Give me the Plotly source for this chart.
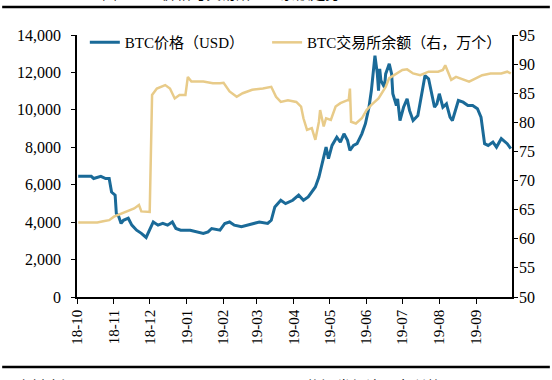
import plotly.graph_objects as go

# BTC price (USD)
price_dates = ["2018-10-02","2018-10-13","2018-10-15","2018-10-21","2018-10-25","2018-10-28","2018-10-30",
               "2018-11-02","2018-11-03","2018-11-05","2018-11-07","2018-11-09","2018-11-13","2018-11-16",
               "2018-11-20","2018-11-24","2018-11-28","2018-12-01","2018-12-04","2018-12-08","2018-12-12",
               "2018-12-16","2018-12-20","2018-12-23","2018-12-27","2019-01-04","2019-01-09","2019-01-15",
               "2019-01-19","2019-01-22","2019-01-29","2019-02-02","2019-02-06","2019-02-10","2019-02-16",
               "2019-02-23","2019-03-03","2019-03-10","2019-03-13","2019-03-16","2019-03-21","2019-03-25",
               "2019-03-31","2019-04-05","2019-04-09","2019-04-13","2019-04-19","2019-04-22","2019-04-25",
               "2019-04-28","2019-04-30","2019-05-03","2019-05-07","2019-05-10","2019-05-13","2019-05-16",
               "2019-05-18","2019-05-21","2019-05-24","2019-05-28","2019-05-31","2019-06-03","2019-06-05",
               "2019-06-08","2019-06-10","2019-06-11","2019-06-12","2019-06-13","2019-06-16","2019-06-17",
               "2019-06-19","2019-06-20","2019-06-22","2019-06-23","2019-06-26","2019-06-27","2019-06-29",
               "2019-07-02","2019-07-05","2019-07-07","2019-07-10","2019-07-14","2019-07-18","2019-07-20",
               "2019-07-23","2019-07-25","2019-07-28","2019-07-30","2019-08-01","2019-08-04","2019-08-07",
               "2019-08-10","2019-08-12","2019-08-17","2019-08-21","2019-08-25","2019-08-29","2019-09-02",
               "2019-09-05","2019-09-08","2019-09-11","2019-09-15","2019-09-18","2019-09-22","2019-09-25",
               "2019-09-27","2019-09-30"]
price_values = [6450,6450,6330,6450,6330,6330,5610,
                5440,4460,4300,3930,4100,4210,3840,
                3570,3400,3180,3570,4010,3840,3930,
                3840,4010,3660,3570,3570,3480,3400,
                3480,3660,3570,3930,4010,3840,3750,
                3890,4010,3930,4100,4810,5170,4990,
                5170,5440,5170,5350,5880,6410,7300,
                8010,7390,8100,8540,8280,8720,8370,
                7840,8100,8190,8720,9260,10140,11030,
                12900,11920,11030,12190,11570,11210,11920,
                12280,12460,11920,10860,10230,10590,9430,
                10140,10590,9970,9430,9700,11120,11830,
                11660,11030,10140,10320,10860,10140,10320,
                9610,9430,10500,10410,10230,10230,10060,
                9610,8190,8100,8280,8010,8460,8280,
                8190,7930]

# BTC exchange balance (right axis, 10k BTC)
bal_dates = ["2018-10-02","2018-10-18","2018-10-23","2018-10-28","2018-11-01","2018-11-07","2018-11-12",
             "2018-11-18","2018-11-22","2018-11-24","2018-12-01","2018-12-03","2018-12-07","2018-12-14",
             "2018-12-18","2018-12-22","2018-12-26","2018-12-31","2019-01-02","2019-01-05","2019-01-15",
             "2019-01-23","2019-01-29","2019-02-01","2019-02-06","2019-02-12","2019-02-17","2019-02-25",
             "2019-03-06","2019-03-13","2019-03-17","2019-03-21","2019-03-27","2019-04-03","2019-04-07",
             "2019-04-09","2019-04-12","2019-04-16","2019-04-19","2019-04-22","2019-04-23","2019-04-26",
             "2019-04-28","2019-05-02","2019-05-06","2019-05-10","2019-05-16","2019-05-17","2019-05-18",
             "2019-05-19","2019-05-23","2019-05-28","2019-06-01","2019-06-05","2019-06-11","2019-06-15",
             "2019-06-17","2019-06-20","2019-06-24","2019-07-01","2019-07-05","2019-07-10","2019-07-16",
             "2019-07-23","2019-07-31","2019-08-04","2019-08-06","2019-08-08","2019-08-11","2019-08-15",
             "2019-08-21","2019-08-26","2019-09-01","2019-09-06","2019-09-13","2019-09-22","2019-09-27",
             "2019-09-30"]
bal_values = [62.8,62.8,63.0,63.2,63.8,64.3,64.7,
              65.2,65.8,64.7,64.6,84.7,85.8,86.4,
              85.8,84.1,84.7,84.7,87.8,87.0,87.0,
              86.7,86.7,86.8,85.3,84.4,85.0,85.6,
              85.8,86.1,84.4,83.5,83.8,83.5,82.7,
              80.7,78.7,79.0,77.0,80.1,82.1,79.3,
              80.7,80.4,82.7,83.3,83.8,83.8,85.8,
              80.1,79.8,80.7,82.1,83.0,84.1,85.6,
              86.1,87.6,88.1,89.0,89.1,88.4,88.1,
              88.7,88.7,89.0,89.8,88.7,87.3,87.8,
              87.3,87.0,87.6,88.1,88.4,88.4,88.7,
              88.4]

left_ticks = [0, 2000, 4000, 6000, 8000, 10000, 12000, 14000]
right_ticks = [50, 55, 60, 65, 70, 75, 80, 85, 90, 95]
month_ticks = ["2018-10-01","2018-11-01","2018-12-01","2019-01-01","2019-02-01","2019-03-01",
               "2019-04-01","2019-05-01","2019-06-01","2019-07-01","2019-08-01","2019-09-01"]

FONT = "Liberation Serif, Times New Roman, Noto Sans CJK SC, serif"
BLUE = "#1a6a98"
GOLD = "#e8cb89"

fig = go.Figure()
fig.add_trace(go.Scatter(x=price_dates, y=price_values, mode="lines", name="BTC价格（USD）",
                         line=dict(color=BLUE, width=3), legend="legend"))
fig.add_trace(go.Scatter(x=bal_dates, y=bal_values, mode="lines", name="BTC交易所余额（右，万个）",
                         line=dict(color=GOLD, width=2.5), yaxis="y2", legend="legend2"))

axis_common = dict(showline=True, linecolor="black", linewidth=1.5, showgrid=False, zeroline=False,
                   ticks="outside", tickcolor="black", tickwidth=1.2)

legend_common = dict(orientation="h", yanchor="top", xanchor="left", bgcolor="rgba(0,0,0,0)",
                     font=dict(family=FONT, size=15, color="black"), itemwidth=30)

fig.update_layout(
    width=552, height=380,
    margin=dict(l=77, r=40, t=35, b=83),
    paper_bgcolor="white", plot_bgcolor="white",
    font=dict(family=FONT, size=15, color="black"),
    showlegend=True,
    legend=dict(x=0.018, y=1.034, **legend_common),
    legend2=dict(x=0.437, y=1.034, **legend_common),
    xaxis=dict(type="date", range=["2018-10-01", "2019-10-01"], tickvals=month_ticks,
               tickformat="%y-%m", tickangle=-90, ticklen=5,
               tickfont=dict(family=FONT, size=15, color="black"), **axis_common),
    yaxis=dict(range=[0, 14000], tickvals=left_ticks, tickformat=",", ticklen=4,
               ticklabelstandoff=7, tickfont=dict(family=FONT, size=16, color="black"), **axis_common),
    yaxis2=dict(range=[50, 95], tickvals=right_ticks, overlaying="y", side="right", ticklen=4,
                ticklabelstandoff=-2, tickfont=dict(family=FONT, size=16, color="black"), **axis_common),
)

# frame rules above and below the figure (report layout)
fig.add_shape(type="line", xref="paper", yref="paper", x0=-0.172, x1=1.087, y0=1.107, y1=1.107,
              line=dict(color="black", width=2.5))
fig.add_shape(type="line", xref="paper", yref="paper", x0=-0.172, x1=1.087, y0=-0.267, y1=-0.267,
              line=dict(color="black", width=2.5))
fig.add_annotation(xref="paper", yref="paper", x=0.33, y=1.118, xanchor="center", yanchor="bottom",
                   text="图：BTC价格与交易所BTC余额走势", showarrow=False,
                   font=dict(family=FONT, size=15, color="black"))
fig.add_annotation(xref="paper", yref="paper", x=-0.145, y=-0.305, xanchor="left", yanchor="top",
                   text="资料来源：Coinmarketcap，Bitinfocharts，国信证券经济研究所整理", showarrow=False,
                   font=dict(family=FONT, size=15, color="black"))

fig.write_html("out.html", config={"displayModeBar": False},
               post_script="document.body.style.margin='0';")
